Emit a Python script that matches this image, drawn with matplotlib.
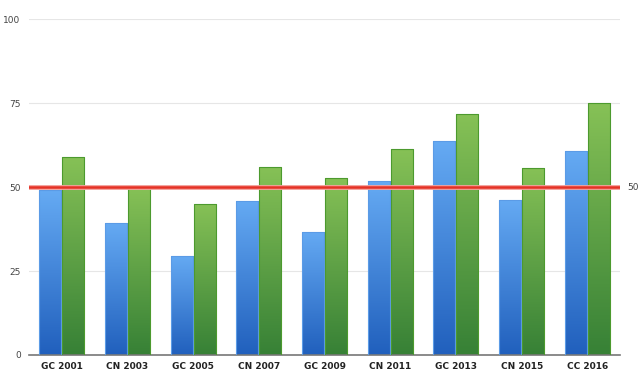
import numpy as np
import matplotlib.pyplot as plt
from matplotlib.colors import LinearSegmentedColormap

categories = ['GC 2001', 'CN 2003', 'GC 2005', 'CN 2007', 'GC 2009',
              'CN 2011', 'GC 2013', 'CN 2015', 'CC 2016']
blue_vals = [49, 39.3, 29.6, 45.9, 36.7, 51.8, 63.7, 46.2, 60.8]
green_vals = [59, 50, 45, 56, 52.8, 61.2, 71.8, 55.7, 75]
ref_level = 50

blue_cmap = LinearSegmentedColormap.from_list('b', ['#2160bd', '#65aaf3'])
green_cmap = LinearSegmentedColormap.from_list('g', ['#378136', '#86c156'])

fig = plt.figure(figsize=(6.4, 3.82), dpi=100)
ax = fig.add_axes([0.0453, 0.0707, 0.9237, 0.8793])

x = np.arange(len(categories))
w = 0.335
grad = np.linspace(0, 1, 100).reshape(-1, 1)


def gradient_bars(xs, vals, cmap, edge):
    bars = ax.bar(xs, vals, w, color='none', edgecolor=edge, linewidth=0.8, zorder=3)
    for b in bars:
        bx, bw, bh = b.get_x(), b.get_width(), b.get_height()
        im = ax.imshow(grad, extent=[bx, bx + bw, 0, bh], origin='lower',
                       aspect='auto', cmap=cmap, zorder=2)
        im.set_clip_path(b)
    return bars


gradient_bars(x - w / 2 - 0.008, blue_vals, blue_cmap, '#5b9be6')
gradient_bars(x + w / 2 + 0.008, green_vals, green_cmap, '#4c9a2e')

# reference line
ax.axhline(ref_level, color='#f4a09a', lw=3.5, zorder=4)
ax.axhline(ref_level, color='#e53226', lw=1.8, zorder=5)
ax.text(1.012, ref_level, '50', transform=ax.get_yaxis_transform(),
        va='center', ha='left', fontsize=6.5, color='#444444')

ax.set_xlim(-0.5, len(categories) - 0.5)
ax.set_ylim(0, 100)
ax.set_yticks([0, 25, 50, 75, 100])
ax.yaxis.grid(True, color='#e6e6e6', lw=0.8)
ax.set_axisbelow(True)
ax.set_xticks(x)
ax.set_xticklabels(categories, fontweight='bold')
ax.tick_params(axis='x', length=0, labelsize=6.5, pad=5, colors='#222222')
ax.tick_params(axis='y', length=0, labelsize=6.5, pad=6, colors='#444444')
for s in ['top', 'right', 'left']:
    ax.spines[s].set_visible(False)
ax.spines['bottom'].set_color('#777777')
ax.spines['bottom'].set_linewidth(1.2)

fig.savefig('out.png', dpi=100)
